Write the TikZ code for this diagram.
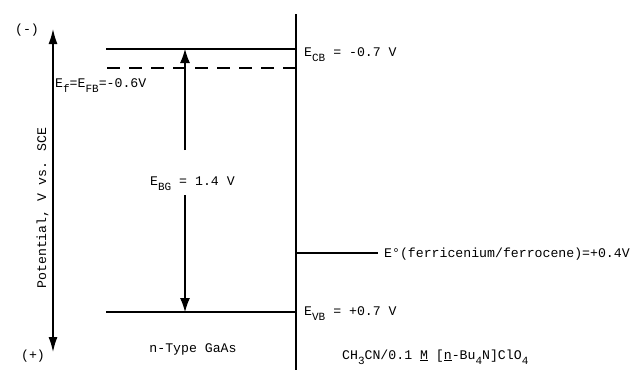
\documentclass[tikz,border=0pt]{standalone}
\usepackage{fontspec}
\setmainfont{Liberation Mono}
\usetikzlibrary{arrows.meta}
\newcommand\sbs[1]{\raisebox{-5.5pt}{\fontsize{11}{12}\selectfont #1}}
\begin{document}
\begin{tikzpicture}[x=1pt,y=-1pt,
  lbl/.style={inner sep=0pt,font=\fontsize{13.2}{15}\selectfont},
  level/.style={line width=1.7pt},
  axisarrow/.style={line width=1.3pt,{Latex[length=15pt,width=9pt]}-{Latex[length=15pt,width=9pt]}},
  gaparrow/.style={line width=1.1pt,-{Latex[length=14pt,width=10pt]}},
  iface/.style={line width=1.7pt}]
\useasboundingbox (0,0) rectangle (636,370);
% axis
\coordinate (axtop) at (53,29);
\coordinate (axbot) at (53,352);
\draw[axisarrow] (axtop) -- (axbot);
\node[lbl] (minus) at (27,30) {(-)};
\node[lbl] (plus) at (33,356) {(+)};
\node[lbl,rotate=90] (pot) at (42.5,208) {Potential, V vs. SCE};
% interface
\coordinate (iftop) at (296,14);
\coordinate (ifbot) at (296,370);
\draw[iface] (iftop) -- (ifbot);
% levels
\coordinate (cbl) at (106,49);
\coordinate (cbr) at (296,49);
\draw[level] (cbl) -- (cbr);
\coordinate (fbl) at (107,68);
\coordinate (fbr) at (296,68);
\draw[level,dash pattern=on 13pt off 9pt] (fbl) -- (fbr);
\coordinate (vbl) at (106,312);
\coordinate (vbr) at (296,312);
\draw[level] (vbl) -- (vbr);
\coordinate (fcl) at (296,253);
\coordinate (fcr) at (378,253);
\draw[level] (fcl) -- (fcr);
% band gap arrow
\coordinate (bgtop) at (185,49);
\coordinate (bgbot) at (185,312);
\coordinate (g1) at (185,150);
\coordinate (g2) at (185,195);
\draw[gaparrow] (g1) -- (bgtop);
\draw[gaparrow] (g2) -- (bgbot);
\node[lbl,anchor=base west] (bg) at (150,185) {E\sbs{BG} = 1.4 V};
% labels
\node[lbl,anchor=base west] (ecb) at (304,56) {E\sbs{CB} = -0.7 V};
\node[lbl,anchor=base west] (ef) at (55,87) {E\sbs{f}=E\sbs{FB}=-0.6V};
\node[lbl,anchor=base west] (fc) at (384,257) {E°(ferricenium/ferrocene)=+0.4V};
\node[lbl,anchor=base west] (evb) at (304,315) {E\sbs{VB} = +0.7 V};
\node[lbl] (gaas) at (193,349) {n-Type GaAs};
\node[lbl,anchor=base west] (sol) at (342,359) {CH\sbs{3}CN/0.1 \underline{M} [\underline{n}-Bu\sbs{4}N]ClO\sbs{4}};
\end{tikzpicture}
\end{document}
